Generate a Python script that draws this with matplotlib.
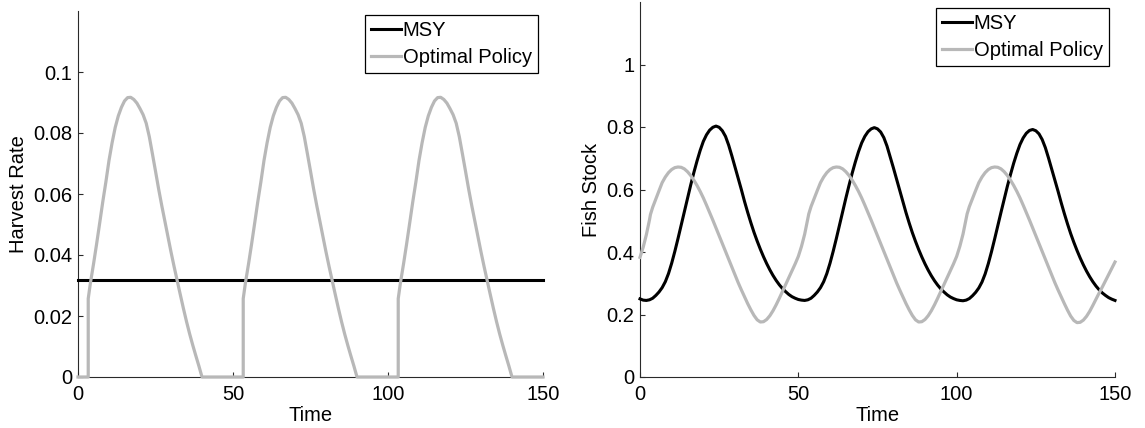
import matplotlib
matplotlib.use("Agg")
import matplotlib.pyplot as plt

plt.rcParams['font.family'] = ['Liberation Sans', 'DejaVu Sans']

# ---------------- data: left panel (harvest rate) ----------------
msy_rate_t = [0, 150]
msy_rate = [0.0317, 0.0317]

opt_rate_t = [0, 3.3, 3.3, 4, 5, 6, 7, 8, 9, 10, 11, 12, 13, 14, 15, 16, 17, 18, 19, 20,
              21, 22, 23, 24, 25, 26, 27, 28, 29, 30, 31, 32, 33, 34, 35, 36, 37, 38, 39, 40,
              53.3, 53.3, 54, 55, 56, 57, 58, 59, 60, 61, 62, 63, 64, 65, 66, 67, 68, 69, 70,
              71, 72, 73, 74, 75, 76, 77, 78, 79, 80, 81, 82, 83, 84, 85, 86, 87, 88, 89, 90,
              103.3, 103.3, 104, 105, 106, 107, 108, 109, 110, 111, 112, 113, 114, 115, 116, 117, 118, 119, 120,
              121, 122, 123, 124, 125, 126, 127, 128, 129, 130, 131, 132, 133, 134, 135, 136, 137, 138, 139, 140,
              150]
opt_rate = [0, 0, 0.0257, 0.0308, 0.0370, 0.0436, 0.0505, 0.0575, 0.0640, 0.0710, 0.0768, 0.0818, 0.0856, 0.0884, 0.0905, 0.0916, 0.0917, 0.0910, 0.0898, 0.0880,
            0.0860, 0.0832, 0.0788, 0.0732, 0.0675, 0.0617, 0.0563, 0.0512, 0.0461, 0.0410, 0.0362, 0.0316, 0.0270, 0.0225, 0.0182, 0.0142, 0.0105, 0.0070, 0.0036, 0.0,
            0, 0.0257, 0.0308, 0.0370, 0.0436, 0.0505, 0.0575, 0.0640, 0.0710, 0.0768, 0.0818, 0.0856, 0.0884, 0.0905, 0.0916, 0.0917, 0.0910, 0.0898, 0.0880,
            0.0860, 0.0832, 0.0788, 0.0732, 0.0675, 0.0617, 0.0563, 0.0512, 0.0461, 0.0410, 0.0362, 0.0316, 0.0270, 0.0225, 0.0182, 0.0142, 0.0105, 0.0070, 0.0036, 0.0,
            0, 0.0257, 0.0308, 0.0370, 0.0436, 0.0505, 0.0575, 0.0640, 0.0710, 0.0768, 0.0818, 0.0856, 0.0884, 0.0905, 0.0916, 0.0917, 0.0910, 0.0898, 0.0880,
            0.0860, 0.0832, 0.0788, 0.0732, 0.0675, 0.0617, 0.0563, 0.0512, 0.0461, 0.0410, 0.0362, 0.0316, 0.0270, 0.0225, 0.0182, 0.0142, 0.0105, 0.0070, 0.0036, 0.0,
            0]

# ---------------- data: right panel (fish stock) ----------------
msy_stock_t = list(range(0, 151))
msy_stock = [0.250, 0.246, 0.245, 0.247, 0.252, 0.261, 0.272, 0.286, 0.305, 0.331,
             0.364, 0.402, 0.443, 0.486, 0.529, 0.572, 0.614, 0.654, 0.691, 0.725,
             0.754, 0.775, 0.790, 0.799, 0.803, 0.799, 0.788, 0.770, 0.742, 0.708,
             0.672, 0.636, 0.600, 0.562, 0.527, 0.494, 0.463, 0.435, 0.409, 0.385,
             0.363, 0.343, 0.325, 0.309, 0.295, 0.283, 0.273, 0.264, 0.257, 0.252,
             0.248,
             0.246, 0.245, 0.247, 0.252, 0.261, 0.272, 0.286, 0.305, 0.331,
             0.364, 0.402, 0.443, 0.486, 0.529, 0.572, 0.613, 0.652, 0.688, 0.721,
             0.749, 0.770, 0.785, 0.794, 0.798, 0.794, 0.784, 0.766, 0.739, 0.705,
             0.670, 0.634, 0.598, 0.561, 0.526, 0.493, 0.462, 0.434, 0.408, 0.384,
             0.362, 0.342, 0.324, 0.308, 0.294, 0.282, 0.272, 0.263, 0.256, 0.251,
             0.247,
             0.245, 0.244, 0.246, 0.251, 0.260, 0.271, 0.285, 0.304, 0.330,
             0.363, 0.401, 0.442, 0.485, 0.527, 0.569, 0.610, 0.648, 0.684, 0.716,
             0.744, 0.765, 0.780, 0.789, 0.792, 0.788, 0.778, 0.760, 0.734, 0.701,
             0.666, 0.631, 0.595, 0.558, 0.523, 0.490, 0.459, 0.431, 0.405, 0.381,
             0.359, 0.339, 0.321, 0.305, 0.291, 0.279, 0.269, 0.261, 0.254, 0.249,
             0.245]

opt_stock_t = [0, 1, 2, 3, 3.3, 4, 5, 6, 7, 8, 9, 10, 11, 12, 13, 14, 15, 16, 17, 18, 19, 20,
               21, 22, 23, 24, 25, 26, 27, 28, 29, 30, 31, 32, 33, 34, 35, 36, 37, 38, 39, 40,
               41, 42, 43, 44, 45, 46, 47, 48, 49, 50,
               51, 52, 53, 53.3, 54, 55, 56, 57, 58, 59, 60, 61, 62, 63, 64, 65, 66, 67, 68, 69, 70,
               71, 72, 73, 74, 75, 76, 77, 78, 79, 80, 81, 82, 83, 84, 85, 86, 87, 88, 89, 90,
               91, 92, 93, 94, 95, 96, 97, 98, 99, 100,
               101, 102, 103, 103.3, 104, 105, 106, 107, 108, 109, 110, 111, 112, 113, 114, 115, 116, 117, 118, 119, 120,
               121, 122, 123, 124, 125, 126, 127, 128, 129, 130, 131, 132, 133, 134, 135, 136, 137, 138, 139, 140,
               141, 142, 143, 144, 145, 146, 147, 148, 149, 150]
opt_stock = [0.383, 0.415, 0.455, 0.503, 0.520, 0.543, 0.570, 0.596, 0.622, 0.640, 0.654, 0.664, 0.670, 0.672, 0.671, 0.666, 0.657, 0.645, 0.630, 0.613, 0.594, 0.573,
             0.550, 0.526, 0.502, 0.477, 0.452, 0.427, 0.402, 0.377, 0.352, 0.327, 0.302, 0.279, 0.257, 0.235, 0.215, 0.197, 0.183, 0.176, 0.177, 0.184,
             0.196, 0.212, 0.231, 0.252, 0.274, 0.296, 0.318, 0.340, 0.362, 0.386,
             0.418, 0.457, 0.506, 0.522, 0.545, 0.571, 0.597, 0.622, 0.640, 0.654, 0.664, 0.670, 0.672, 0.671, 0.666, 0.657, 0.645, 0.630, 0.613, 0.594, 0.573,
             0.550, 0.526, 0.502, 0.477, 0.452, 0.427, 0.402, 0.377, 0.352, 0.327, 0.302, 0.279, 0.257, 0.235, 0.215, 0.197, 0.183, 0.176, 0.177, 0.184,
             0.196, 0.212, 0.231, 0.252, 0.274, 0.296, 0.318, 0.340, 0.362, 0.386,
             0.418, 0.457, 0.506, 0.522, 0.545, 0.571, 0.597, 0.622, 0.640, 0.654, 0.664, 0.670, 0.672, 0.671, 0.666, 0.657, 0.645, 0.630, 0.613, 0.594, 0.573,
             0.550, 0.526, 0.502, 0.477, 0.452, 0.427, 0.402, 0.377, 0.352, 0.327, 0.302, 0.279, 0.257, 0.235, 0.214, 0.195, 0.181, 0.174, 0.175, 0.182,
             0.194, 0.210, 0.229, 0.249, 0.269, 0.288, 0.308, 0.328, 0.348, 0.368]

x_ticks = [0, 50, 100, 150]
x_ticklabels = ['0', '50', '100', '150']
rate_ticks = [0, 0.02, 0.04, 0.06, 0.08, 0.1]
rate_ticklabels = ['0', '0.02', '0.04', '0.06', '0.08', '0.1']
stock_ticks = [0, 0.2, 0.4, 0.6, 0.8, 1.0]
stock_ticklabels = ['0', '0.2', '0.4', '0.6', '0.8', '1']
series_labels = ['MSY', 'Optimal Policy']

BLACK = '#000000'
GRAY = '#b8b8b8'
FS = 14.5
W, H = 1145, 428

fig = plt.figure(figsize=(W / 100, H / 100), dpi=100)
ax1 = fig.add_axes([78 / W, 51 / H, 465 / W, 366 / H])
ax2 = fig.add_axes([640 / W, 51 / H, 475 / W, 375 / H])


def style(ax):
    for s in ['top', 'right']:
        ax.spines[s].set_visible(False)
    for s in ['left', 'bottom']:
        ax.spines[s].set_color('#2a2a2a')
        ax.spines[s].set_linewidth(0.8)
    ax.tick_params(direction='in', length=3.5, width=0.8, color='#2a2a2a',
                   labelsize=FS, top=False, right=False)
    ax.tick_params(axis='x', pad=6)
    ax.tick_params(axis='y', pad=4)
    ax.set_xlim(0, 150)
    ax.set_xticks(x_ticks)
    ax.set_xticklabels(x_ticklabels)
    ax.set_xlabel('Time', fontsize=FS, labelpad=1)


# left panel
ax1.plot(msy_rate_t, msy_rate, color=BLACK, lw=2.2, label=series_labels[0], clip_on=False, zorder=3)
ax1.plot(opt_rate_t, opt_rate, color=GRAY, lw=2.3, label=series_labels[1], clip_on=False, zorder=4)
style(ax1)
ax1.set_ylim(0, 0.12)
ax1.set_yticks(rate_ticks)
ax1.set_yticklabels(rate_ticklabels)
ax1.set_ylabel('Harvest Rate', fontsize=FS, labelpad=4)

# right panel
ax2.plot(msy_stock_t, msy_stock, color=BLACK, lw=2.2, label=series_labels[0], clip_on=False, zorder=3)
ax2.plot(opt_stock_t, opt_stock, color=GRAY, lw=2.3, label=series_labels[1], clip_on=False, zorder=4)
style(ax2)
ax2.set_ylim(0, 1.2)
ax2.set_yticks(stock_ticks)
ax2.set_yticklabels(stock_ticklabels)
ax2.set_ylabel('Fish Stock', fontsize=FS, labelpad=4)

for ax, anchor in [(ax1, (538 / W, 1 - 15 / H)), (ax2, (1109 / W, 1 - 8 / H))]:
    leg = ax.legend(loc='upper right', bbox_to_anchor=anchor, bbox_transform=fig.transFigure,
                    fontsize=FS, frameon=True, fancybox=False, framealpha=1,
                    edgecolor='black', borderaxespad=0, borderpad=0.3,
                    handlelength=1.5, handletextpad=0.1, labelspacing=0.38)
    leg.get_frame().set_linewidth(0.9)

fig.savefig('out.png', dpi=100)
